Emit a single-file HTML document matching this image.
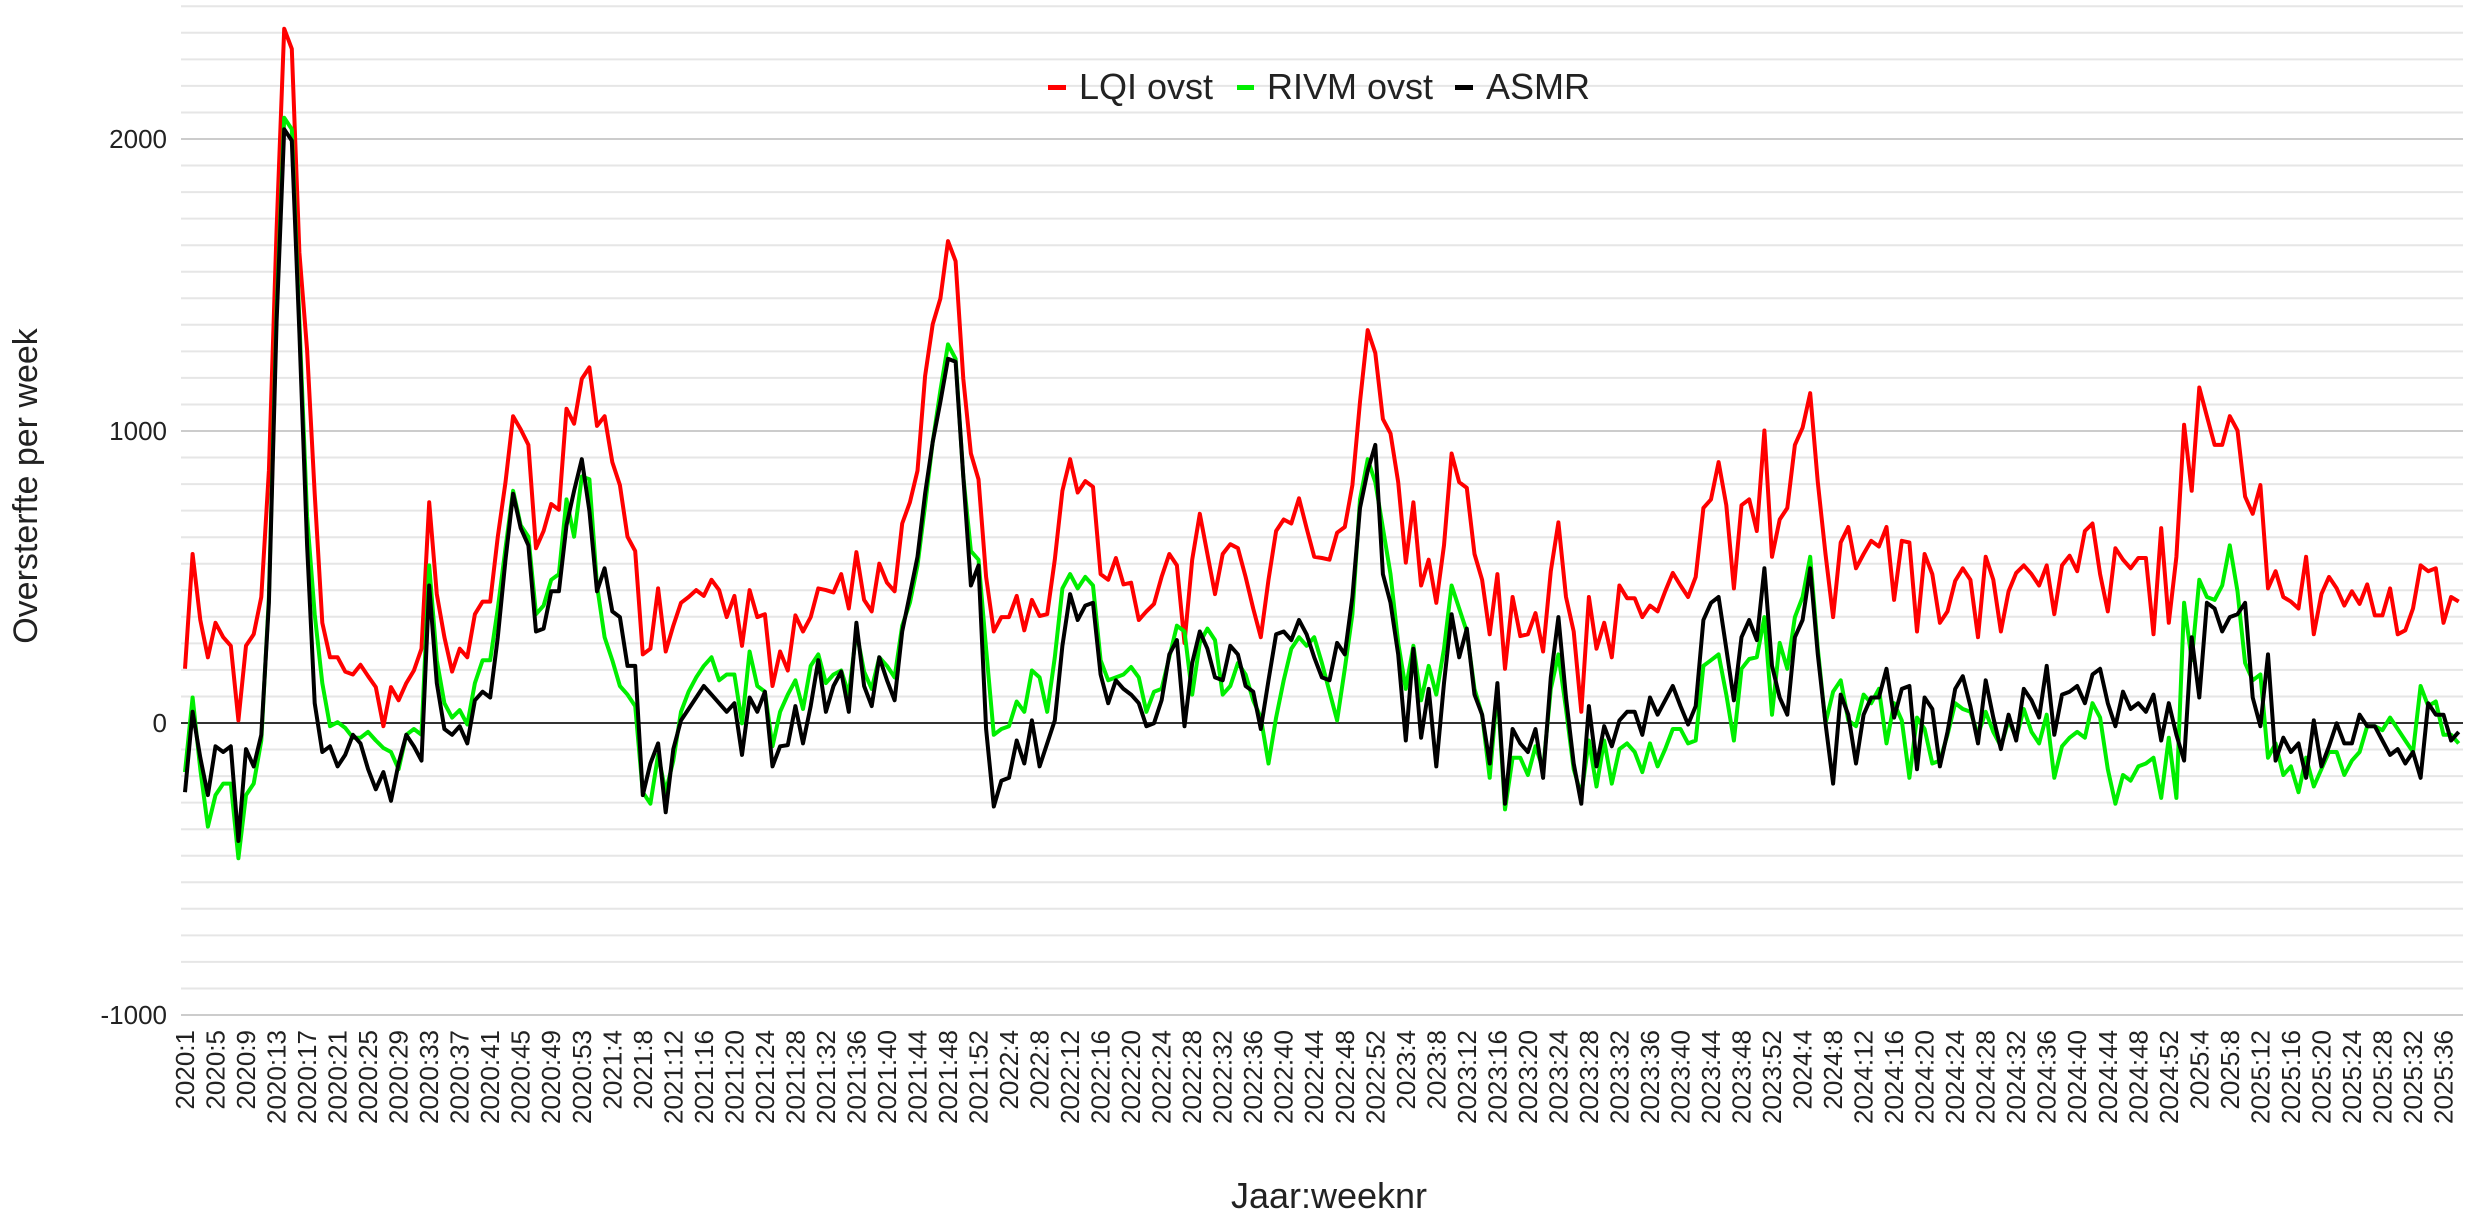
<!DOCTYPE html>
<html><head><meta charset="utf-8">
<style>
html,body{margin:0;padding:0;background:#fff;}
svg{display:block;font-family:"Liberation Sans",Arial,sans-serif;}
</style></head>
<body>
<svg id="c" width="2474" height="1223" viewBox="0 0 2474 1223" xmlns="http://www.w3.org/2000/svg">
<rect width="2474" height="1223" fill="#fff"/>
<path stroke="#e6e6e6" stroke-width="2" fill="none" d="M181 988.5H2463M181 961.9H2463M181 935.4H2463M181 908.8H2463M181 882.3H2463M181 855.7H2463M181 829.2H2463M181 802.6H2463M181 776.1H2463M181 749.5H2463M181 696.5H2463M181 669.9H2463M181 643.4H2463M181 616.8H2463M181 590.3H2463M181 563.7H2463M181 537.2H2463M181 510.6H2463M181 484.1H2463M181 457.5H2463M181 404.5H2463M181 377.9H2463M181 351.4H2463M181 324.8H2463M181 298.3H2463M181 271.7H2463M181 245.2H2463M181 218.6H2463M181 192.1H2463M181 165.5H2463M181 112.5H2463M181 85.9H2463M181 59.4H2463M181 32.8H2463M181 6.3H2463"/>
<path stroke="#cccccc" stroke-width="2" fill="none" d="M181 1015H2463M181 431H2463M181 139H2463"/>
<path stroke="#333" stroke-width="2" fill="none" d="M181 723H2463"/>
<g id="lines"></g>
<g font-size="26" fill="#222" text-anchor="end">
<text x="167" y="148">2000</text>
<text x="167" y="440">1000</text>
<text x="167" y="732">0</text>
<text x="167" y="1024">-1000</text>
</g>
<text transform="translate(37,486) rotate(-90)" font-size="34" fill="#222" text-anchor="middle">Oversterfte per week</text>
<text x="1329" y="1208" font-size="36" fill="#222" text-anchor="middle">Jaar:weeknr</text>
<g font-size="36" fill="#222">
<rect x="1048" y="85" width="18" height="5" fill="#ff0000"/><text x="1079" y="99">LQI ovst</text>
<rect x="1237" y="85" width="17" height="5" fill="#00ee00"/><text x="1267" y="99">RIVM ovst</text>
<rect x="1455" y="85" width="18" height="5" fill="#000"/><text x="1486" y="99">ASMR</text>
</g>
<g font-size="26" fill="#222" text-anchor="end">
<text transform="translate(194,1030) rotate(-90)">2020:1</text>
<text transform="translate(224.5,1030) rotate(-90)">2020:5</text>
<text transform="translate(255,1030) rotate(-90)">2020:9</text>
<text transform="translate(285.6,1030) rotate(-90)">2020:13</text>
<text transform="translate(316.1,1030) rotate(-90)">2020:17</text>
<text transform="translate(346.6,1030) rotate(-90)">2020:21</text>
<text transform="translate(377.1,1030) rotate(-90)">2020:25</text>
<text transform="translate(407.6,1030) rotate(-90)">2020:29</text>
<text transform="translate(438.2,1030) rotate(-90)">2020:33</text>
<text transform="translate(468.7,1030) rotate(-90)">2020:37</text>
<text transform="translate(499.2,1030) rotate(-90)">2020:41</text>
<text transform="translate(529.7,1030) rotate(-90)">2020:45</text>
<text transform="translate(560.2,1030) rotate(-90)">2020:49</text>
<text transform="translate(590.8,1030) rotate(-90)">2020:53</text>
<text transform="translate(621.3,1030) rotate(-90)">2021:4</text>
<text transform="translate(651.8,1030) rotate(-90)">2021:8</text>
<text transform="translate(682.3,1030) rotate(-90)">2021:12</text>
<text transform="translate(712.8,1030) rotate(-90)">2021:16</text>
<text transform="translate(743.4,1030) rotate(-90)">2021:20</text>
<text transform="translate(773.9,1030) rotate(-90)">2021:24</text>
<text transform="translate(804.4,1030) rotate(-90)">2021:28</text>
<text transform="translate(834.9,1030) rotate(-90)">2021:32</text>
<text transform="translate(865.4,1030) rotate(-90)">2021:36</text>
<text transform="translate(896,1030) rotate(-90)">2021:40</text>
<text transform="translate(926.5,1030) rotate(-90)">2021:44</text>
<text transform="translate(957,1030) rotate(-90)">2021:48</text>
<text transform="translate(987.5,1030) rotate(-90)">2021:52</text>
<text transform="translate(1018,1030) rotate(-90)">2022:4</text>
<text transform="translate(1048.6,1030) rotate(-90)">2022:8</text>
<text transform="translate(1079.1,1030) rotate(-90)">2022:12</text>
<text transform="translate(1109.6,1030) rotate(-90)">2022:16</text>
<text transform="translate(1140.1,1030) rotate(-90)">2022:20</text>
<text transform="translate(1170.6,1030) rotate(-90)">2022:24</text>
<text transform="translate(1201.2,1030) rotate(-90)">2022:28</text>
<text transform="translate(1231.7,1030) rotate(-90)">2022:32</text>
<text transform="translate(1262.2,1030) rotate(-90)">2022:36</text>
<text transform="translate(1292.7,1030) rotate(-90)">2022:40</text>
<text transform="translate(1323.2,1030) rotate(-90)">2022:44</text>
<text transform="translate(1353.8,1030) rotate(-90)">2022:48</text>
<text transform="translate(1384.3,1030) rotate(-90)">2022:52</text>
<text transform="translate(1414.8,1030) rotate(-90)">2023:4</text>
<text transform="translate(1445.3,1030) rotate(-90)">2023:8</text>
<text transform="translate(1475.8,1030) rotate(-90)">2023:12</text>
<text transform="translate(1506.4,1030) rotate(-90)">2023:16</text>
<text transform="translate(1536.9,1030) rotate(-90)">2023:20</text>
<text transform="translate(1567.4,1030) rotate(-90)">2023:24</text>
<text transform="translate(1597.9,1030) rotate(-90)">2023:28</text>
<text transform="translate(1628.4,1030) rotate(-90)">2023:32</text>
<text transform="translate(1659,1030) rotate(-90)">2023:36</text>
<text transform="translate(1689.5,1030) rotate(-90)">2023:40</text>
<text transform="translate(1720,1030) rotate(-90)">2023:44</text>
<text transform="translate(1750.5,1030) rotate(-90)">2023:48</text>
<text transform="translate(1781,1030) rotate(-90)">2023:52</text>
<text transform="translate(1811.6,1030) rotate(-90)">2024:4</text>
<text transform="translate(1842.1,1030) rotate(-90)">2024:8</text>
<text transform="translate(1872.6,1030) rotate(-90)">2024:12</text>
<text transform="translate(1903.1,1030) rotate(-90)">2024:16</text>
<text transform="translate(1933.6,1030) rotate(-90)">2024:20</text>
<text transform="translate(1964.2,1030) rotate(-90)">2024:24</text>
<text transform="translate(1994.7,1030) rotate(-90)">2024:28</text>
<text transform="translate(2025.2,1030) rotate(-90)">2024:32</text>
<text transform="translate(2055.7,1030) rotate(-90)">2024:36</text>
<text transform="translate(2086.2,1030) rotate(-90)">2024:40</text>
<text transform="translate(2116.8,1030) rotate(-90)">2024:44</text>
<text transform="translate(2147.3,1030) rotate(-90)">2024:48</text>
<text transform="translate(2177.8,1030) rotate(-90)">2024:52</text>
<text transform="translate(2208.3,1030) rotate(-90)">2025:4</text>
<text transform="translate(2238.8,1030) rotate(-90)">2025:8</text>
<text transform="translate(2269.4,1030) rotate(-90)">2025:12</text>
<text transform="translate(2299.9,1030) rotate(-90)">2025:16</text>
<text transform="translate(2330.4,1030) rotate(-90)">2025:20</text>
<text transform="translate(2360.9,1030) rotate(-90)">2025:24</text>
<text transform="translate(2391.4,1030) rotate(-90)">2025:28</text>
<text transform="translate(2422,1030) rotate(-90)">2025:32</text>
<text transform="translate(2452.5,1030) rotate(-90)">2025:36</text>
</g>
</svg>
<script>
var R=[1165,965,1080,1145,1085,1110,1125,1255,1125,1105,1040,820,400,50,85,440,610,860,1085,1145,1145,1170,1175,1158,1178,1197,1265,1197,1220,1190,1168,1130,875,1035,1110,1170,1130,1145,1070,1048,1048,935,840,725,748,775,955,925,878,888,712,738,660,640,742,725,805,845,935,960,1140,1130,
1025,1135,1090,1050,1040,1028,1038,1010,1028,1075,1038,1125,1028,1075,1070,1195,1135,1168,1072,1100,1075,1025,1028,1032,1000,1060,962,1045,1065,982,1015,1030,912,875,820,655,565,520,420,455,660,790,835,1005,1100,1075,1075,1038,1098,1045,1073,1070,975,855,800,858,838,848,1000,1010,972,1018,
1015,1080,1065,1052,1005,965,985,1120,975,895,965,1035,965,948,955,1005,1060,1110,1010,925,905,912,868,920,970,972,975,928,918,845,700,575,615,730,755,840,980,875,1020,975,1050,950,790,840,850,965,1010,1105,1000,1165,1040,1108,1105,1068,1135,995,910,1040,1100,1240,1040,
1130,1085,1145,1020,1042,1042,1075,1055,1065,1030,998,1020,1040,1005,885,870,805,880,1025,880,870,925,750,970,905,885,775,745,685,840,965,1075,945,918,990,965,942,952,918,1045,942,945,1100,965,1000,1085,1065,1012,990,1010,1110,970,1010,1100,1030,998,985,1000,1020,985,1070,985,
968,995,925,912,1000,1065,955,975,990,972,972,1105,920,1085,970,740,855,675,725,775,775,725,750,865,895,845,1025,995,1040,1048,1060,970,1105,1035,1005,1025,1055,1030,1052,1018,1072,1072,1025,1105,1098,1060,985,995,990,1085,1040,1048];
var G=[1345,1215,1340,1440,1385,1365,1365,1495,1385,1365,1290,1040,540,205,225,560,900,1070,1190,1265,1258,1268,1285,1285,1275,1290,1303,1310,1340,1280,1270,1280,985,1150,1225,1250,1237,1262,1190,1150,1150,1060,955,855,915,935,1070,1055,1010,1000,870,935,830,835,1020,1110,1150,1195,1210,1230,1380,1400,
1315,1380,1325,1240,1205,1180,1160,1145,1185,1175,1175,1260,1135,1195,1205,1300,1240,1210,1185,1235,1160,1140,1190,1175,1168,1210,1100,1170,1200,1145,1160,1180,1090,1050,985,880,770,680,600,625,830,960,975,1130,1280,1270,1265,1222,1240,1168,1180,1240,1145,1025,1000,1025,1005,1020,1150,1185,1180,1175,
1162,1180,1240,1205,1200,1145,1090,1100,1210,1120,1095,1115,1210,1195,1155,1175,1220,1250,1330,1250,1185,1130,1110,1125,1110,1155,1205,1255,1165,1070,870,800,840,920,1000,1120,1200,1125,1220,1160,1210,1130,1020,1060,1100,1200,1245,1355,1200,1410,1320,1320,1350,1300,1340,1200,1140,1235,1340,1385,1290,
1370,1290,1365,1305,1295,1310,1345,1295,1335,1305,1270,1270,1295,1290,1160,1150,1140,1210,1290,1165,1148,1145,1075,1245,1120,1165,1075,1040,970,1130,1260,1205,1185,1255,1265,1210,1225,1200,1295,1225,1255,1355,1250,1270,1330,1325,1280,1225,1235,1240,1280,1240,1275,1300,1255,1285,1235,1275,1295,1245,1355,1300,
1285,1275,1285,1225,1250,1340,1400,1350,1360,1335,1330,1320,1390,1285,1390,1050,1150,1010,1040,1045,1020,950,1030,1155,1185,1175,1320,1295,1350,1335,1380,1320,1370,1340,1310,1310,1350,1325,1310,1265,1265,1272,1250,1270,1290,1310,1195,1230,1222,1280,1280,1295];
var B=[1380,1240,1320,1385,1300,1310,1300,1465,1305,1335,1280,1050,560,225,245,580,950,1225,1310,1300,1335,1315,1280,1295,1340,1375,1345,1395,1330,1280,1300,1325,1020,1190,1270,1280,1265,1295,1220,1205,1215,1110,975,860,920,950,1100,1095,1030,1030,915,855,800,890,1030,990,1065,1075,1160,1160,1385,1330,
1295,1415,1305,1255,1235,1215,1195,1210,1225,1240,1225,1315,1215,1240,1205,1335,1300,1298,1230,1295,1230,1150,1240,1195,1170,1240,1085,1195,1230,1145,1185,1220,1100,1035,970,860,770,700,625,630,830,1020,985,1270,1405,1360,1355,1290,1330,1255,1335,1295,1255,1125,1035,1080,1055,1050,1175,1225,1185,1200,
1210,1225,1265,1260,1220,1140,1115,1265,1155,1100,1130,1180,1185,1125,1140,1195,1205,1270,1185,1105,1100,1115,1080,1105,1145,1180,1185,1120,1140,1040,885,820,775,1000,1050,1140,1290,1130,1285,1200,1335,1190,1070,1145,1095,1210,1245,1330,1190,1400,1270,1295,1310,1270,1355,1180,1075,1215,1330,1400,1230,
1335,1265,1300,1255,1240,1240,1280,1215,1245,1220,1195,1230,1262,1230,1080,1050,1040,1130,1220,1110,1080,1115,990,1160,1215,1245,1110,1080,990,1140,1260,1365,1210,1245,1330,1245,1215,1215,1165,1250,1200,1195,1340,1215,1235,1335,1275,1200,1178,1230,1295,1185,1250,1305,1245,1290,1200,1220,1250,1160,1280,1210,
1205,1195,1225,1175,1165,1225,1265,1205,1235,1225,1240,1210,1290,1225,1280,1325,1110,1215,1050,1060,1100,1075,1070,1050,1215,1265,1140,1325,1285,1310,1295,1355,1255,1335,1300,1260,1295,1295,1245,1265,1265,1290,1315,1305,1330,1310,1355,1225,1245,1245,1290,1275];
function pts(a){var s=[];for(var i=0;i<a.length;i++){s.push((185+7.63*i).toFixed(1)+","+(a[i]/1.742).toFixed(1));}return s.join(" ");}
var g=document.getElementById("lines"),ns="http://www.w3.org/2000/svg";
[[R,"#ff0000"],[G,"#00ee00"],[B,"#000000"]].forEach(function(d){var p=document.createElementNS(ns,"polyline");p.setAttribute("points",pts(d[0]));p.setAttribute("fill","none");p.setAttribute("stroke",d[1]);p.setAttribute("stroke-width","4");p.setAttribute("stroke-linejoin","round");g.appendChild(p);});
</script>
</body></html>
